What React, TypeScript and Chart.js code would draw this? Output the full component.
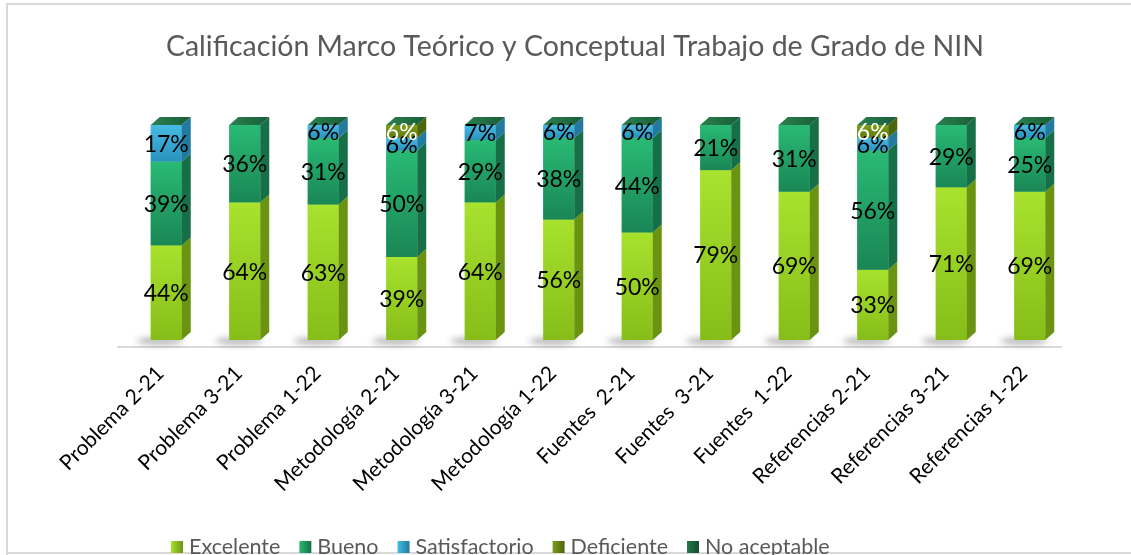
import React, { useEffect, useRef } from "react";
import { Chart, registerables } from "chart.js";

Chart.register(...registerables);

// ---------- data ----------
const TITLE = "Calificación Marco Teórico y Conceptual Trabajo de Grado de NIN";

const categories = [
  "Problema 2-21",
  "Problema 3-21",
  "Problema 1-22",
  "Metodología 2-21",
  "Metodología 3-21",
  "Metodología 1-22",
  "Fuentes  2-21",
  "Fuentes  3-21",
  "Fuentes  1-22",
  "Referencias 2-21",
  "Referencias 3-21",
  "Referencias 1-22",
];

const seriesNames = ["Excelente", "Bueno", "Satisfactorio", "Deficiente", "No aceptable"];

const excelente = [44, 64, 63, 39, 64, 56, 50, 79, 69, 33, 71, 69];
const bueno = [39, 36, 31, 50, 29, 38, 44, 21, 31, 56, 29, 25];
const satisfactorio = [17, 0, 6, 6, 7, 6, 6, 0, 0, 6, 0, 6];
const deficiente = [0, 0, 0, 6, 0, 0, 0, 0, 0, 6, 0, 0];
const noAceptable = [0, 0, 0, 0, 0, 0, 0, 0, 0, 0, 0, 0];

const seriesValues = [excelente, bueno, satisfactorio, deficiente, noAceptable];

// ---------- styles ----------
const FONT = "Lato";
const styles = [
  { light: "#A8E22E", dark: "#86BD19", side: "#6A9312", label: "#000000" },
  { light: "#29BA75", dark: "#1A8655", side: "#166F46", label: "#000000" },
  { light: "#46BBE5", dark: "#2A92BC", side: "#227A9E", label: "#000000" },
  { light: "#7D9C1A", dark: "#5E7D0F", side: "#4C660B", label: "#FFFFFF" },
  { light: "#24784A", dark: "#1A6139", side: "#144D2D", label: "#FFFFFF" },
];
const DX = 9;
const DY = 8;

const totals = categories.map((_, i) =>
  seriesValues.reduce((s, arr) => s + arr[i], 0)
);

const threeDPlugin = {
  id: "threeD",
  beforeDraw(chart: any) {
    const { ctx, width, height } = chart;
    ctx.save();
    ctx.fillStyle = "#ffffff";
    ctx.fillRect(0, 0, width, height);
    ctx.strokeStyle = "#D9D9D9";
    ctx.lineWidth = 2;
    ctx.beginPath();
    ctx.moveTo(7, height + 5);
    ctx.lineTo(7, 4);
    ctx.lineTo(width + 5, 4);
    ctx.moveTo(7, 553);
    ctx.lineTo(width + 5, 553);
    ctx.stroke();
    ctx.restore();
  },
  beforeDatasetsDraw(chart: any) {
    const { ctx, chartArea } = chart;
    ctx.save();
    ctx.strokeStyle = "#DADADA";
    ctx.lineWidth = 2;
    ctx.beginPath();
    ctx.moveTo(chartArea.left - 10, chartArea.bottom + 7);
    ctx.lineTo(chartArea.right - 7, chartArea.bottom + 7);
    ctx.stroke();
    const meta0 = chart.getDatasetMeta(0);
    ctx.filter = "blur(3px)";
    ctx.fillStyle = "rgba(0,0,0,0.30)";
    meta0.data.forEach((el: any) => {
      ctx.beginPath();
      ctx.ellipse(el.x - 6, el.base + 1, 24, 3.5, 0, 0, Math.PI * 2);
      ctx.fill();
    });
    ctx.restore();
  },
  afterDatasetsDraw(chart: any) {
    const { ctx } = chart;
    const nDs = chart.data.datasets.length;
    ctx.save();
    for (let i = 0; i < categories.length; i++) {
      let topY = Infinity;
      let left = 0;
      let right = 0;
      for (let d = 0; d < nDs; d++) {
        const el: any = chart.getDatasetMeta(d).data[i];
        if (!el) continue;
        const l = el.x - el.width / 2;
        const r = el.x + el.width / 2;
        left = l;
        right = r;
        const v = seriesValues[d][i];
        if (v <= 0) continue;
        const t = Math.min(el.y, el.base);
        const b = Math.max(el.y, el.base);
        topY = Math.min(topY, t);
        const st = styles[d];
        const g = ctx.createLinearGradient(0, t, 0, b);
        g.addColorStop(0, st.light);
        g.addColorStop(1, st.dark);
        ctx.fillStyle = g;
        ctx.fillRect(l, t, r - l, b - t);
        ctx.fillStyle = st.side;
        ctx.beginPath();
        ctx.moveTo(r, t);
        ctx.lineTo(r + DX, t - DY);
        ctx.lineTo(r + DX, b - DY);
        ctx.lineTo(r, b);
        ctx.closePath();
        ctx.fill();
      }
      if (topY !== Infinity) {
        const g2 = ctx.createLinearGradient(left, 0, right + DX, 0);
        g2.addColorStop(0, "#2A8050");
        g2.addColorStop(1, "#1A5E38");
        ctx.fillStyle = g2;
        ctx.beginPath();
        ctx.moveTo(left, topY);
        ctx.lineTo(left + DX, topY - DY);
        ctx.lineTo(right + DX, topY - DY);
        ctx.lineTo(right, topY);
        ctx.closePath();
        ctx.fill();
      }
    }
    ctx.font = `23px ${FONT}`;
    ctx.textAlign = "center";
    ctx.textBaseline = "middle";
    for (let d = 0; d < nDs; d++) {
      const meta = chart.getDatasetMeta(d);
      meta.data.forEach((el: any, i: number) => {
        const v = seriesValues[d][i];
        if (v <= 0) return;
        ctx.fillStyle = styles[d].label;
        ctx.fillText(`${v}%`, el.x, (el.y + el.base) / 2 + 1);
      });
    }
    ctx.restore();
  },
  afterDraw(chart: any) {
    const { ctx } = chart;
    ctx.save();
    ctx.font = `28.5px ${FONT}`;
    ctx.fillStyle = "#595959";
    ctx.textAlign = "center";
    ctx.textBaseline = "middle";
    ctx.fillText(TITLE, 575, 47);
    ctx.font = `21.5px ${FONT}`;
    ctx.textAlign = "left";
    ctx.textBaseline = "alphabetic";
    let x = 171;
    const baseY = 554;
    seriesNames.forEach((name, d) => {
      const st = styles[d];
      const g = ctx.createLinearGradient(x, 0, x + 12, 0);
      g.addColorStop(0, st.light);
      g.addColorStop(1, st.side);
      ctx.fillStyle = g;
      ctx.fillRect(x, baseY - 13, 12, 12);
      x += 18;
      ctx.fillStyle = "#595959";
      ctx.fillText(name, x, baseY);
      x += ctx.measureText(name).width + 19;
    });
    ctx.restore();
  },
};

export default function App() {
  const canvasRef = useRef<HTMLCanvasElement | null>(null);

  useEffect(() => {
    const canvas = canvasRef.current;
    if (!canvas) return;
    const datasets = seriesNames.map((name, d) => ({
      label: name,
      data: seriesValues[d].map((v, i) => (v / totals[i]) * 100),
      backgroundColor: styles[d].light,
      borderWidth: 0,
      categoryPercentage: 1,
      barPercentage: 0.395,
    }));
    const chart = new Chart(canvas, {
      type: "bar",
      data: { labels: categories, datasets },
      options: {
        responsive: false,
        animation: false,
        layout: { padding: { left: 127, right: 62, top: 125, bottom: 0 } },
        plugins: {
          legend: { display: false },
          title: { display: false },
          tooltip: { enabled: false },
        },
        scales: {
          x: {
            stacked: true,
            offset: true,
            grid: { display: false, drawTicks: false },
            border: { display: false },
            ticks: {
              autoSkip: false,
              minRotation: 45,
              maxRotation: 45,
              padding: 21,
              labelOffset: -6,
              color: "#000000",
              font: { family: FONT, size: 21 },
            },
            afterFit: (scale: any) => {
              scale.height = 215;
            },
          },
          y: {
            stacked: true,
            display: false,
            min: 0,
            max: 100,
          },
        },
      },
      plugins: [threeDPlugin],
    });
    return () => chart.destroy();
  }, []);

  return (
    <div style={{ position: "fixed", left: 0, top: 0, width: 1131, height: 555, overflow: "hidden", background: "#fff" }}>
      <canvas ref={canvasRef} width={1131} height={555} style={{ display: "block" }} />
    </div>
  );
}
